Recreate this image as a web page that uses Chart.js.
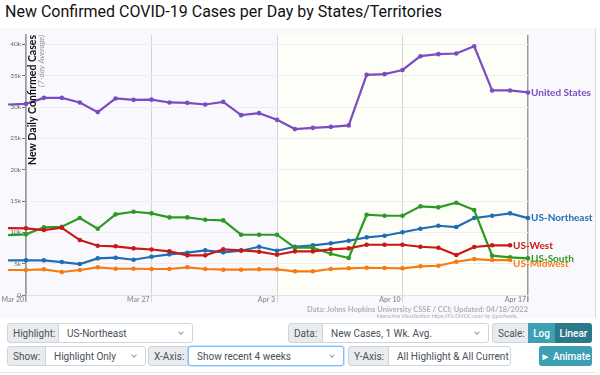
<!DOCTYPE html>
<html>
<head>
<meta charset="utf-8">
<script src="https://cdn.jsdelivr.net/npm/chart.js@4.4.1/dist/chart.umd.min.js"></script>
<style>
  body { margin: 0; width: 600px; height: 375px; overflow: hidden; background: #fff; font-family: Roboto, 'Open Sans', sans-serif; position: relative; }
  #title { position: absolute; left: 5px; top: 2px; font-size: 16px; color: #111; white-space: nowrap; }
  #plotBg { position: absolute; left: 0; top: 28px; width: 595px; height: 290px; background: #f9f9fd; border-right: 1px solid #ddd; }
  #chart { position: absolute; left: 0; top: 0; }
  .lab, .sel, .btn { position: absolute; box-sizing: border-box; height: 20px; font-size: 10px; display: flex; align-items: center; white-space: nowrap; }
  .lab { background: #e9ecef; border: 1px solid #ced4da; color: #495057; padding-left: 5px; border-radius: 3px 0 0 3px; }
  .sel { background: #fff; border: 1px solid #ced4da; color: #495057; padding-left: 8px; border-radius: 0 3px 3px 0; }
  .sel::after { content: ''; position: absolute; right: 9px; top: 6px; width: 3px; height: 3px; border-right: 1px solid #999; border-bottom: 1px solid #999; transform: rotate(45deg); }
  .sel.focus { border-color: #80bdff; box-shadow: 0 0 0 1px rgba(0,123,255,.2); border-radius: 3px; }
  .btn { color: #fff; justify-content: center; font-weight: 500; }
  .r1 { top: 323px; }
  .r2 { top: 346px; }
  #sep { position: absolute; left: 0; top: 372px; width: 596px; border-top: 1px solid #e5e5e5; }
</style>
</head>
<body>
<div id="title">New Confirmed COVID-19 Cases per Day by States/Territories</div>
<div id="plotBg"></div>
<canvas id="chart" width="600" height="320"></canvas>

<div class="lab r1" style="left:7px;width:52px">Highlight:</div>
<div class="sel r1" style="left:58px;width:135px">US-Northeast</div>
<div class="lab r1" style="left:288px;width:35px">Data:</div>
<div class="sel r1" style="left:322px;width:167px">New Cases, 1 Wk. Avg.</div>
<div class="lab r1" style="left:492px;width:37px">Scale:</div>
<div class="btn r1" style="left:528px;width:27px;background:#3c9fb3">Log</div>
<div class="btn r1" style="left:555px;width:37px;background:#2b7888;border-radius:0 3px 3px 0">Linear</div>

<div class="lab r2" style="left:7px;width:39px">Show:</div>
<div class="sel r2" style="left:45px;width:101px">Highlight Only</div>
<div class="lab r2" style="left:148px;width:41px">X-Axis:</div>
<div class="sel r2 focus" style="left:188px;width:156px">Show recent 4 weeks</div>
<div class="lab r2" style="left:348px;width:41px">Y-Axis:</div>
<div class="sel r2" style="left:388px;width:123px">All Highlight &amp; All Current</div>
<div class="btn r2" style="left:539px;width:53px;background:#3c9fb3;border-radius:3px">&#9658; Animate</div>
<div id="sep"></div>

<script>
// Dates (index 0 = Mar 19)
const dates = ['Mar 19', 'Mar 20', 'Mar 21', 'Mar 22', 'Mar 23', 'Mar 24', 'Mar 25', 'Mar 26', 'Mar 27', 'Mar 28',
    'Mar 29', 'Mar 30', 'Mar 31', 'Apr 1', 'Apr 2', 'Apr 3', 'Apr 4', 'Apr 5', 'Apr 6', 'Apr 7',
    'Apr 8', 'Apr 9', 'Apr 10', 'Apr 11', 'Apr 12', 'Apr 13', 'Apr 14', 'Apr 15', 'Apr 16', 'Apr 17'];
const xTickDays = [1, 8, 15, 22, 29];
const yTickValues = [0, 5000, 10000, 15000, 20000, 25000, 30000, 35000, 40000];

// New cases, 7-day average
const unitedStates = [30410, 30510, 31470, 31470, 30730, 29190, 31370, 31150, 31180, 30730, 30670, 30410, 30830, 28710, 29030,
    27960, 26480, 26680, 26840, 27070, 35140, 35250, 35920, 38120, 38440, 38550, 39710, 32650, 32650, 32330];
const usSouth = [9570, 9680, 10800, 10890, 12280, 10570, 12870, 13290, 13030, 12390, 12390, 12010, 11910, 9620, 9620,
    9620, 7540, 7540, 6590, 5900, 12810, 12650, 12650, 14150, 13990, 14720, 13560, 6270, 6010, 5850];
const usWest = [10690, 10640, 10370, 10730, 8770, 7860, 7770, 7450, 7260, 6970, 6330, 6330, 7290, 7130, 6910,
    6430, 6970, 6970, 7290, 7450, 8020, 8020, 8020, 7700, 7540, 6380, 7660, 7930, 7930, null];
const usMidwest = [3990, 3990, 4100, 3670, 3990, 4420, 4190, 4190, 4150, 4150, 4420, 4150, 4040, 4040, 4100,
    4100, 3780, 3780, 4150, 4260, 4350, 4310, 4260, 4580, 4670, 5310, 5740, 5580, 5580, null];
const usNortheast = [5530, 5530, 5530, 5260, 4940, 5850, 5950, 5630, 6110, 6490, 6750, 7130, 6810, 7070, 7700,
    7070, 7700, 7930, 8250, 8660, 9200, 9460, 10020, 10570, 11050, 10850, 12280, 12650, 13030, 12280];

const toPoints = (values) => values.map((v, i) => ({ x: i, y: v }));

const makeDataset = (label, values, color, labelShift) => ({
    label,
    data: toPoints(values),
    borderColor: color,
    backgroundColor: color,
    pointBackgroundColor: color,
    pointBorderColor: color,
    borderWidth: 2.2,
    pointRadius: 2.3,
    pointBorderWidth: 0,
    clip: false,
    labelShift: labelShift || 0,
});

// Background shading for the most recent two weeks
const shadePlugin = {
    id: 'shade',
    beforeDraw(chart) {
        const { ctx, chartArea, scales } = chart;
        const x0 = scales.x.getPixelForValue(15);
        const x1 = scales.x.getPixelForValue(29);
        ctx.save();
        ctx.fillStyle = '#fefef9';
        ctx.fillRect(x0, chartArea.top, x1 - x0, chartArea.bottom - chartArea.top);
        ctx.restore();
    }
};

// Series names at the end of each line, axis title and source notes
const annotatePlugin = {
    id: 'annotate',
    afterDraw(chart) {
        const { ctx, chartArea } = chart;
        ctx.save();
        chart.data.datasets.forEach((ds, i) => {
            const meta = chart.getDatasetMeta(i);
            let last = null;
            ds.data.forEach((p, j) => { if (p.y !== null) last = meta.data[j]; });
            if (!last) return;
            ctx.font = 'bold 10px Lato, sans-serif';
            ctx.fillStyle = ds.borderColor;
            ctx.textAlign = 'left';
            ctx.textBaseline = 'middle';
            ctx.fillText(ds.label, last.x + 3, last.y + ds.labelShift);
        });

        ctx.save();
        ctx.translate(chartArea.left + 7, chartArea.top);
        ctx.rotate(-Math.PI / 2);
        ctx.textAlign = 'right';
        ctx.textBaseline = 'middle';
        ctx.fillStyle = '#111';
        ctx.font = 'bold 10.5px Lato, sans-serif';
        ctx.fillText('New Daily Confirmed Cases', 0, 0);
        ctx.fillStyle = '#999';
        ctx.font = 'italic 8px Lato, sans-serif';
        ctx.fillText('(7-day Average)', 0, 8);
        ctx.restore();

        ctx.textAlign = 'right';
        ctx.textBaseline = 'middle';
        ctx.fillStyle = '#b0b0b0';
        ctx.font = 'bold 7.5px Lato, sans-serif';
        ctx.fillText('Data: Johns Hopkins University CSSE / CCI; Updated: 04/18/2022', chartArea.right, 310);
        ctx.font = '5px Lato, sans-serif';
        ctx.fillText('Interactive Visualization: https://91-DIVOC.com/ by @profwade_', chartArea.right - 9, 316.5);
        ctx.restore();
    }
};

new Chart(document.getElementById('chart'), {
    type: 'line',
    data: {
        datasets: [
            makeDataset('United States', unitedStates, '#7b4cc0'),
            makeDataset('US-Midwest', usMidwest, '#f57c14', 4),
            makeDataset('US-West', usWest, '#c81818'),
            makeDataset('US-South', usSouth, '#2c9a22'),
            makeDataset('US-Northeast', usNortheast, '#1f6db3'),
        ]
    },
    options: {
        responsive: false,
        animation: false,
        devicePixelRatio: 1,
        layout: { padding: { top: 35, right: 72, left: 0, bottom: 0 } },
        plugins: { legend: { display: false }, tooltip: { enabled: false } },
        elements: { line: { tension: 0 } },
        scales: {
            x: {
                type: 'linear',
                min: 1,
                max: 29,
                afterFit: (scale) => { scale.height = 25; },
                afterBuildTicks: (scale) => { scale.ticks = xTickDays.map(v => ({ value: v })); },
                grid: {
                    color: (c) => c.tick && (c.tick.value === 29 || c.tick.value === 1) ? '#9a9a9a' : '#d4d4d4',
                    lineWidth: (c) => c.tick && (c.tick.value === 29 || c.tick.value === 1) ? 1.5 : 1,
                    tickLength: 7,
                },
                border: { color: '#e2e2e2' },
                ticks: {
                    align: 'end',
                    labelOffset: -2,
                    padding: -6,
                    maxRotation: 0,
                    color: '#999',
                    font: { size: 7, weight: 'bold', family: 'Lato, sans-serif' },
                    callback: (v) => dates[v],
                }
            },
            y: {
                min: 0,
                max: 41500,
                afterFit: (scale) => { scale.width = 26; },
                afterBuildTicks: (scale) => { scale.ticks = yTickValues.map(v => ({ value: v })); },
                grid: { color: '#ececf2', tickColor: '#777', tickLength: 4 },
                border: { color: '#9a9a9a', width: 1.5 },
                ticks: {
                    padding: 1,
                    color: '#666',
                    font: { size: 6.5, family: 'Lato, sans-serif' },
                    callback: (v) => v === 0 ? '0' : (v / 1000) + 'k',
                }
            }
        }
    },
    plugins: [shadePlugin, annotatePlugin]
});
</script>
</body>
</html>
